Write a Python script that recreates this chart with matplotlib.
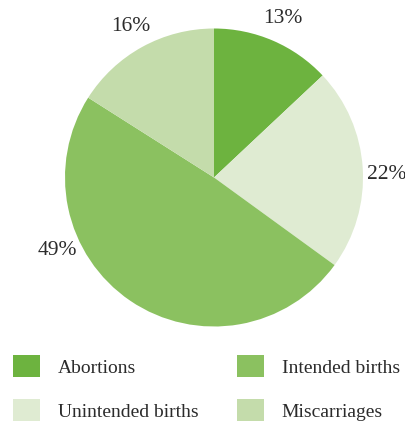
import numpy as np
import matplotlib.pyplot as plt
from matplotlib.patches import Patch

# share of pregnancies by outcome, clockwise from 12 o'clock
outcomes = ['Abortions', 'Unintended births', 'Intended births', 'Miscarriages']
shares = [13, 22, 49, 16]
colors = ['#6db33f', '#dfebd2', '#8bc160', '#c4dcab']

FONT = 'Liberation Serif'
TEXT = '#2b2b2b'

fig = plt.figure(figsize=(4.06, 4.21), dpi=100)
ax = fig.add_axes([65 / 406, 94 / 421, 298 / 406, 299 / 421])

wedges, _ = ax.pie(shares, colors=colors, startangle=90, counterclock=False,
                   radius=1.0, wedgeprops=dict(linewidth=0))
ax.set_xlim(-1, 1)
ax.set_ylim(-1, 1)
ax.set_aspect('equal')
ax.axis('off')

# percentage labels just outside the rim; the big slice gets its label
# pushed round towards the left edge
for w, s in zip(wedges, shares):
    ang = (w.theta1 + w.theta2) / 2
    if s == 49:
        ang = 205
    elif s == 22:
        ang = 1
    r = 1.16
    ax.text(r * np.cos(np.radians(ang)), r * np.sin(np.radians(ang)),
            f'{s}%', ha='center', va='center', fontsize=15.5,
            family=FONT, color=TEXT)

handles = [Patch(facecolor=c, edgecolor='none') for c in colors]
fig.legend(handles, outcomes, loc='upper left',
           bbox_to_anchor=(13 / 406, 1 - 355 / 421), ncol=2,
           frameon=False, borderpad=0, borderaxespad=0,
           handlelength=1.39, handleheight=1.39, handletextpad=0.9,
           labelspacing=1.12, columnspacing=2.0,
           prop=dict(family=FONT, size=14), labelcolor=TEXT)

fig.savefig('out.png', dpi=100)
